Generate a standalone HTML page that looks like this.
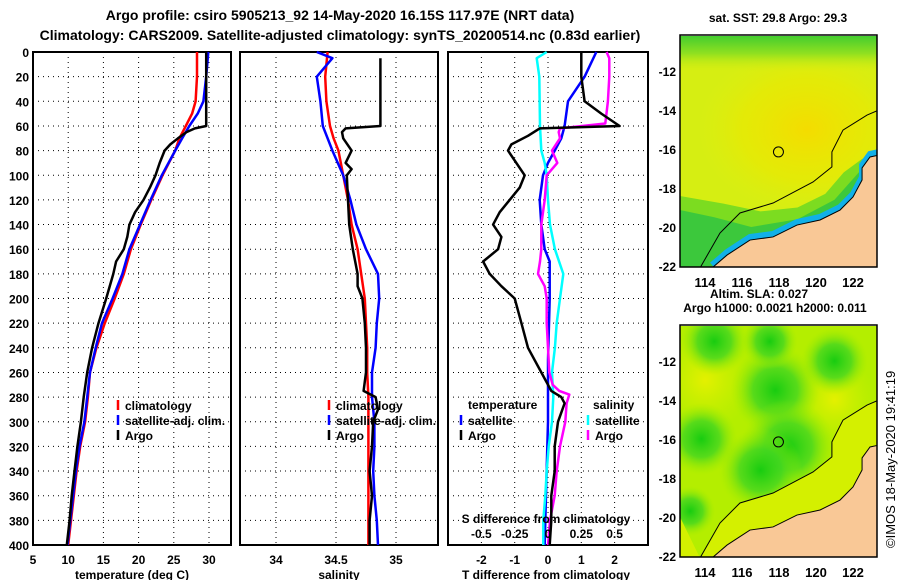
<!DOCTYPE html>
<html><head><meta charset="utf-8">
<style>
body{margin:0;background:#fff;}
svg text{font-family:"Liberation Sans",sans-serif;font-weight:bold;font-size:12px;fill:#000;}
</style></head>
<body>
<svg id="chart" width="900" height="580" viewBox="0 0 900 580" xmlns="http://www.w3.org/2000/svg">
<defs>
<radialGradient id="sstHot" cx="0.5" cy="0.5" r="0.5"><stop offset="0" stop-color="#f4dc00"/><stop offset="0.6" stop-color="#ece800" stop-opacity="0.6"/><stop offset="1" stop-color="#e2ee10" stop-opacity="0"/></radialGradient>
<linearGradient id="sstTop" x1="0" y1="0" x2="0" y2="1"><stop offset="0" stop-color="#40cc30"/><stop offset="0.08" stop-color="#90e020"/><stop offset="0.16" stop-color="#d4ee10" stop-opacity="0"/></linearGradient>
<radialGradient id="g1" r="0.5"><stop offset="0" stop-color="#18cc10"/><stop offset="0.5" stop-color="#40d620" stop-opacity="0.8"/><stop offset="1" stop-color="#a0ec00" stop-opacity="0"/></radialGradient>
<radialGradient id="y1" r="0.5"><stop offset="0" stop-color="#e4f000"/><stop offset="1" stop-color="#c8f000" stop-opacity="0"/></radialGradient>
<clipPath id="clipTop"><rect x="680" y="36" width="197" height="231"/></clipPath>
<clipPath id="clipBot"><rect x="680" y="326" width="197" height="231"/></clipPath>
</defs>
<g id="plots"></g>
<g id="maps"></g>
</svg>
<script>
// ---------- data ----------
const depthTicks=[0,20,40,60,80,100,120,140,160,180,200,220,240,260,280,300,320,340,360,380,400];
const tempTicks=[5,10,15,20,25,30];
const salTicks=[34,34.5,35];
const salTickLabels=["34","34.5","35"];
const tdiffTicks=[-2,-1,0,1,2];
const sdiffTicks=[-0.5,-0.25,0,0.25,0.5];
const sdiffTickLabels=["-0.5","-0.25","0","0.25","0.5"];

const tClimDepth=[0,20,40,50,60,70,80,100,120,140,160,180,200,220,240,260,280,300,320,340,360,380,400];
const tClimVal=[28.3,28.3,28.1,27.6,26.7,25.8,25.2,23.4,21.8,20.3,18.9,17.9,16.6,15.2,14.0,13.1,12.8,12.4,11.7,11.2,10.8,10.4,10.0];
const tSatDepth=[0,20,40,50,60,70,80,100,120,140,160,180,200,220,240,260,280,300,320,340,360,380,400];
const tSatVal=[29.9,29.6,29.2,28.4,27.2,26.2,25.2,23.3,21.7,20.2,18.7,17.7,16.3,14.8,13.9,13.1,12.7,12.3,11.6,11.1,10.7,10.3,9.9];
const tArgoDepth=[0,60,62,65,70,75,80,90,100,110,120,130,140,150,160,170,180,200,220,240,260,280,300,320,340,360,380,400];
const tArgoVal=[29.6,29.6,28.0,26.8,25.6,24.5,23.7,23.0,22.4,21.6,20.7,19.5,18.7,18.4,17.9,16.8,16.4,15.4,14.3,13.4,12.7,12.2,11.8,11.3,10.9,10.5,10.2,9.8];

const sClimDepth=[0,20,40,60,70,80,100,120,140,160,180,200,220,240,260,280,300,320,340,360,380,400];
const sClimVal=[34.43,34.41,34.42,34.45,34.48,34.52,34.56,34.60,34.63,34.68,34.71,34.74,34.75,34.76,34.76,34.77,34.77,34.77,34.77,34.77,34.77,34.77];
const sSatDepth=[0,5,20,40,60,80,100,120,140,160,180,200,220,240,260,280,300,320,340,360,380,400];
const sSatVal=[34.34,34.47,34.34,34.37,34.39,34.47,34.56,34.62,34.67,34.75,34.85,34.86,34.84,34.83,34.80,34.80,34.82,34.82,34.81,34.82,34.84,34.85];
const sArgoDepth=[5,60,62,65,70,80,90,95,100,120,140,160,180,190,200,220,240,260,275,280,290,300,320,340,360,380,400];
const sArgoVal=[34.87,34.87,34.58,34.55,34.56,34.63,34.58,34.63,34.59,34.60,34.61,34.64,34.68,34.68,34.72,34.74,34.75,34.75,34.73,34.83,34.85,34.81,34.80,34.78,34.80,34.78,34.78];

const dtSatDepth=[0,20,40,60,70,80,90,100,120,140,160,170,180,200,250,300,350,400];
const dtSatVal=[1.45,1.1,0.6,0.5,0.4,0.2,0.0,-0.15,-0.25,-0.2,-0.1,0.05,0.05,0.05,0.0,0.0,-0.05,-0.1];
const dtArgoDepth=[0,20,40,50,60,62,68,75,80,100,110,130,140,150,160,170,180,190,200,220,240,260,270,275,280,285,300,320,340,360,380,400];
const dtArgoVal=[1.0,1.0,1.1,1.6,2.15,-0.25,-0.6,-1.1,-1.2,-0.7,-0.85,-1.45,-1.65,-1.4,-1.5,-1.95,-1.75,-1.4,-1.0,-0.8,-0.6,-0.2,0.0,0.1,0.4,0.5,0.3,0.2,0.2,0.1,0.1,0.05];
const dsSatDepth=[0,5,20,60,80,90,100,120,140,160,180,200,220,240,260,280,300,320,340,360,380,400];
const dsSatVal=[-0.01,-0.085,-0.065,-0.06,-0.05,-0.025,-0.01,0.0,0.015,0.052,0.115,0.09,0.065,0.052,0.03,0.04,0.03,0.005,-0.01,-0.02,-0.035,-0.035];
const dsArgoDepth=[0,5,20,40,58,62,65,70,80,90,100,120,140,160,170,180,190,200,220,240,260,270,275,278,285,300,320,340,360,380,400];
const dsArgoVal=[0.44,0.46,0.46,0.45,0.43,0.09,0.08,0.09,0.03,0.07,-0.01,-0.025,-0.05,-0.05,-0.06,-0.075,-0.025,-0.01,-0.01,0.0,0.01,0.035,0.085,0.16,0.14,0.13,0.09,0.065,0.05,0.015,0.0];

// ---------- helpers ----------
const NS="http://www.w3.org/2000/svg";
const plots=document.getElementById('plots');
const maps=document.getElementById('maps');
function mk(tag,attrs,parent){const e=document.createElementNS(NS,tag);for(const k in attrs)e.setAttribute(k,attrs[k]);(parent||plots).appendChild(e);return e;}
function txt(x,y,s,anchor,parent,size){const t=mk('text',{x:x,y:y,'text-anchor':anchor||'middle'},parent);if(size)t.style.fontSize=size+'px';t.textContent=s;return t;}
const Y0=52,Y1=545;
function yD(d){return Y0+d*(Y1-Y0)/400;}
function linScale(v0,x0,v1,x1){return v=>x0+(v-v0)*(x1-x0)/(v1-v0);}
const xT=linScale(5,33,30,209);
const xS=linScale(34,276,35,396);
const xDT=linScale(0,548,1,581.3);
const xDS=linScale(0,548,0.25,581.3);

function panel(name,x0,x1,xticks,xs,labels){
  const g=mk('g',{});
  
  
  for(const d of depthTicks){if(d===0||d===400)continue;
    const l=mk('line',{x1:x0,x2:x1,y1:yD(d),y2:yD(d),stroke:'#000','stroke-width':1,'stroke-dasharray':'1 4'},g);
    
    }
  xticks.forEach((v,i)=>{const x=xs(v);
    const l=mk('line',{x1:x,x2:x,y1:Y0,y2:Y1,stroke:'#000','stroke-width':1,'stroke-dasharray':'1 4'},g);
    
    
    if(labels){const t=txt(x,564,labels[i],'middle',g);
      
      }});
  const r=mk('rect',{x:x0,y:Y0,width:x1-x0,height:Y1-Y0,fill:'none',stroke:'#000','stroke-width':2},g);
  
  
  return g;
}
function series(name,depths,vals,xs,color,w,g){
  const pts=depths.map((d,i)=>xs(vals[i]).toFixed(1)+','+yD(d).toFixed(1)).join(' ');
  const p=mk('polyline',{points:pts,fill:'none',stroke:color,'stroke-width':w||2.5,'stroke-linejoin':'round'},g);
  
  
}

// titles
let t=txt(340,20,'Argo profile: csiro 5905213_92 14-May-2020 16.15S 117.97E (NRT data)','middle',plots,14);


t=txt(340,40,'Climatology: CARS2009. Satellite-adjusted climatology: synTS_20200514.nc (0.83d earlier)','middle',plots,14);



// depth labels
for(const d of depthTicks){const l=txt(29,yD(d)+5,String(d),'end');
  
  }

// panel 1
const g1=panel('temperature-panel',33,231,tempTicks,xT,tempTicks.map(String));
series('temp-climatology-line',tClimDepth,tClimVal,xT,'#ff0000',2.5,g1);
series('temp-satellite-line',tSatDepth,tSatVal,xT,'#0000ff',2.5,g1);
series('temp-argo-line',tArgoDepth,tArgoVal,xT,'#000000',2.5,g1);
t=txt(132,579,'temperature (deg C)','middle',g1);



// panel 2
const g2=panel('salinity-panel',240,438,salTicks,xS,salTickLabels);
series('sal-climatology-line',sClimDepth,sClimVal,xS,'#ff0000',2.5,g2);
series('sal-satellite-line',sSatDepth,sSatVal,xS,'#0000ff',2.5,g2);
series('sal-argo-line',sArgoDepth,sArgoVal,xS,'#000000',2.5,g2);
t=txt(339,579,'salinity','middle',g2);



// panel 3
const g3=panel('difference-panel',448,648,tdiffTicks,xDT,tdiffTicks.map(String));
series('tdiff-satellite-line',dtSatDepth,dtSatVal,xDT,'#0000ff',2.5,g3);
series('sdiff-satellite-line',dsSatDepth,dsSatVal,xDS,'#00ffff',2.5,g3);
series('sdiff-argo-line',dsArgoDepth,dsArgoVal,xDS,'#ff00ff',2.5,g3);
series('tdiff-argo-line',dtArgoDepth,dtArgoVal,xDT,'#000000',2.5,g3);
t=txt(546,579,'T difference from climatology','middle',g3);


t=txt(546,523,'S difference from climatology','middle',g3);


sdiffTicks.forEach((v,i)=>{const l=txt(xDS(v),538,sdiffTickLabels[i],'middle',g3);
  
  });

// legends
function legItem(name,x,y,color,label,g){
  const l=mk('line',{x1:x,x2:x,y1:y-10,y2:y,stroke:color,'stroke-width':2.5},g);
  
  
  const tt=txt(x+7,y,label,'start',g);
  
  
}
[[g1,118],[g2,329]].forEach(([g,x])=>{
  legItem('legend-climatology',x,410,'#ff0000','climatology',g);
  legItem('legend-satellite-adj',x,425,'#0000ff','satellite-adj. clim.',g);
  legItem('legend-argo',x,440,'#000000','Argo',g);
});
t=txt(468,409,'temperature','start',g3);


t=txt(593,409,'salinity','start',g3);


legItem('legend-t-satellite',461,425,'#0000ff','satellite',g3);
legItem('legend-t-argo',461,440,'#000000','Argo',g3);
legItem('legend-s-satellite',588,425,'#00ffff','satellite',g3);
legItem('legend-s-argo',588,440,'#ff00ff','Argo',g3);

// ---------- maps ----------
const mapLonTicks=[114,116,118,120,122];
const mapLatTicks=[-12,-14,-16,-18,-20,-22];
const coastLon=[114.38,115.19,116.43,117.68,118.97,120.22,121.30,122.0,122.49,122.49,122.92,123.4];
const coastLat=[-22.1,-21.44,-20.67,-20.51,-19.90,-19.64,-19.13,-18.46,-17.59,-16.97,-16.41,-16.31];
const isoLon=[113.73,114.81,115.89,117.68,119.84,120.86,120.86,121.46,122.76,123.4];
const isoLat=[-22.1,-20.31,-19.28,-18.77,-17.69,-16.92,-16.15,-15.03,-14.26,-14.0];
const argoLon=117.97, argoLat=-16.15;
const xL=linScale(114,705,122,853);
function drawMap(name,top,bottom,lat12y,clip,kind){
  const g=mk('g',{},maps);
  
  
  const yLat=linScale(-12,lat12y,-22,lat12y+195);
  const c=mk('g',{'clip-path':'url(#'+clip+')'},g);
  const W=197;
  if(kind==='sst'){
    mk('rect',{x:680,y:top,width:W,height:bottom-top,fill:'#d6ee12'},c);
    mk('ellipse',{cx:xL(119.5),cy:yLat(-15),rx:110,ry:85,fill:'url(#sstHot)'},c);
    mk('rect',{x:680,y:top,width:W,height:bottom-top,fill:'url(#sstTop)'},c);
    const gp=[[112,-18.3],[115,-18.8],[117,-19.2],[119,-19.0],[120.5,-18.3],[121.5,-17.2],[122.5,-16.5],[124,-16.5],[124,-23],[112,-23]];
    mk('polygon',{points:gp.map(p=>xL(p[0])+','+yLat(p[1])).join(' '),fill:'#7cdc20'},c);
    const gp2=[[112,-19.0],[114.5,-19.5],[116.5,-20.0],[119,-19.6],[121,-18.6],[122.5,-17],[124,-17],[124,-23],[112,-23]];
    mk('polygon',{points:gp2.map(p=>xL(p[0])+','+yLat(p[1])).join(' '),fill:'#3cc83c'},c);
    mk('polyline',{points:coastLon.map((v,i)=>xL(v)+','+(yLat(coastLat[i])-3)).join(' '),fill:'none',stroke:'#10b0e8','stroke-width':6},c);
  } else {
    mk('rect',{x:680,y:top,width:W,height:bottom-top,fill:'#b4ee00'},c);
    [[xL(114),yLat(-13),35,'y1'],[xL(121),yLat(-14),30,'y1'],[xL(117.8),yLat(-13.5),32,'g1'],[xL(118.5),yLat(-16.4),34,'g1'],[xL(113.8),yLat(-16),26,'g1'],[xL(121),yLat(-12),24,'g1'],[xL(113.2),yLat(-19.7),18,'g1'],[xL(117),yLat(-17.6),30,'g1'],[xL(114.5),yLat(-11),24,'g1'],[xL(117.5),yLat(-11),20,'g1']].forEach(b=>{
      mk('circle',{cx:b[0],cy:b[1],r:b[2]*1.4,fill:'url(#'+b[3]+')'},c);});
    const sh=isoLon.map((v,i)=>xL(v)+','+yLat(isoLat[i])).join(' ');
    mk('polygon',{points:'680,'+(yLat(-20))+' '+sh+' 877,'+bottom+' 680,'+bottom,fill:'#d4f000'},c);
  }
  const land=coastLon.map((v,i)=>xL(v)+','+yLat(coastLat[i])).join(' ');
  const lp=mk('polygon',{points:land+' 877,'+yLat(-16.3)+' 877,'+bottom+' '+xL(114.38)+','+bottom,fill:'#f9c896',stroke:'#000','stroke-width':1},c);
  
  
  mk('polyline',{points:isoLon.map((v,i)=>xL(v)+','+yLat(isoLat[i])).join(' '),fill:'none',stroke:'#000','stroke-width':1},c);
  const m=mk('circle',{cx:xL(argoLon),cy:yLat(argoLat),r:5,fill:'none',stroke:'#000','stroke-width':1},g);
  
  
  mk('rect',{x:680,y:top,width:W,height:bottom-top,fill:'none',stroke:'#000','stroke-width':1.5},g);
  mapLonTicks.forEach(v=>{const l=txt(xL(v),bottom+20,String(v),'middle',g,13);
    
    });
  mapLatTicks.forEach(v=>{const l=txt(676,yLat(v)+5,String(v),'end',g);
    
    });
}
drawMap('sst-map',35,267,71,'clipTop','sst');
drawMap('sla-map',325,557,361,'clipBot','sla');
t=txt(778,22,'sat. SST: 29.8 Argo: 29.3','middle',maps);


t=txt(759,298,'Altim. SLA: 0.027','middle',maps);


t=txt(775,312,'Argo h1000: 0.0021 h2000: 0.011','middle',maps);


t=mk('text',{x:0,y:0,transform:'translate(895,548) rotate(-90)','text-anchor':'start'},maps);
t.style.fontWeight='normal';
t.style.fontSize='13px';
t.textContent='©IMOS 18-May-2020 19:41:19';


</script>
</body></html>
